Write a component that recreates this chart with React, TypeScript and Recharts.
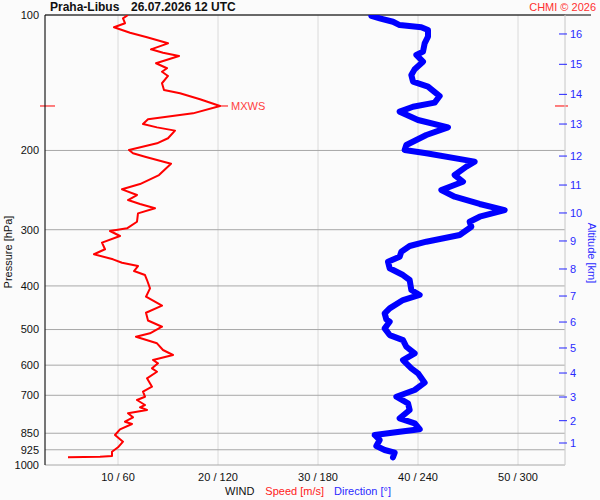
import React from "react";
import {
  ScatterChart,
  Scatter,
  XAxis,
  YAxis,
  CartesianGrid,
  ReferenceLine,
} from "recharts";

// wind speed profile [m/s] against pressure [hPa]
const speedP = [
  100, 101.7, 104.3, 106.5, 109.5, 112.1, 115.6, 119.2, 121.3, 123.3, 128.0, 131.3, 133.7, 136.6,
  141.8, 146.8, 149.3, 153.9, 159.3, 165.4, 170.5, 174.7, 177.7, 180.7, 187.9, 192.8, 199.5, 202.9,
  206.5, 214, 226.8, 237.5, 244.0, 251.2, 257.7, 263.0, 268.9, 275.9, 288.0, 297.9, 302.0, 309.8,
  320.6, 331.6, 340.2, 349.1, 355.2, 361.3, 370.6, 378.3, 388.1, 405.0, 422.7, 442.6, 458.8, 477.5,
  492.9, 509.8, 518.7, 536.5, 555.2, 569.6, 584.4, 594.3, 609.8, 620.5, 641.8, 669.9, 687.3, 705.1,
  717.1, 735.6, 744.3, 754.7, 767.5, 783.4, 801.2, 810.7, 833.0, 857.7, 887.6, 913.4, 934.2, 955.0,
  958.4, 961.4,
];
const speedV = [
  11.0, 10.5, 10.7, 9.6, 11.2, 12.9, 15.0, 13.3, 14.5, 16.1, 13.8, 14.9, 14.4, 15.0,
  14.4, 14.6, 16.2, 18.2, 20.2, 17.5, 13.0, 12.5, 13.9, 15.7, 15.0, 13.9, 11.1, 11.5,
  12.7, 15.3, 14.1, 12.2, 10.4, 11.9, 11.0, 12.2, 13.7, 12.0, 11.9, 10.9, 9.2, 10.2,
  8.4, 8.7, 7.6, 9.5, 10.4, 12.0, 11.6, 12.7, 12.9, 13.2, 12.8, 14.4, 12.8, 13.0,
  14.4, 13.2, 11.8, 13.9, 14.5, 15.5, 13.5, 14.0, 13.4, 13.9, 12.9, 13.4, 12.5, 12.7,
  11.9, 12.7, 12.2, 12.9, 11.0, 11.5, 10.7, 11.4, 10.2, 9.7, 10.5, 10.0, 9.4, 9.4,
  8.2, 5.0,
];

// wind direction profile [deg] against pressure [hPa]
const dirP = [
  100, 100.5, 101.7, 103.5, 105.3, 106.5, 108.0, 111.7, 115.6, 120.6, 122.7, 127.0, 132.0, 135.9,
  140.6, 144.3, 151.4, 156.6, 159.9, 164.0, 171.1, 177.7, 184.8, 194.5, 199.5, 202.9, 211.8, 217.3,
  226.8, 234.7, 244.9, 253.4, 263.0, 271.3, 280.7, 288.0, 295.4, 308.2, 319.0, 326.1, 335.7, 344.4,
  353.4, 365.5, 378.3, 388.1, 408.5, 419.0, 429.9, 448.6, 460.2, 474.6, 480.5, 497.0, 514.4, 527.7,
  546.1, 564.9, 584.4, 609.8, 625.6, 656.3, 681.3, 705.1, 729.3, 754.7, 787.4, 807.8, 833.0, 843.3,
  857.7, 879.9, 907.4, 926.1, 939.0, 961.4,
];
const dirV = [
  215, 212, 217, 225, 229, 242, 246, 246, 244, 243, 239, 243, 238, 236,
  237, 246, 253, 250, 237, 229, 240, 258, 245, 233, 232, 245, 274, 269,
  262, 267, 254, 262, 277, 292, 277, 271, 272, 265, 245, 235, 230, 229,
  222, 223, 231, 235, 236, 241, 231, 223, 220, 221, 223, 220, 223, 231,
  233, 238, 231, 236, 240, 244, 238, 227, 234, 235, 229, 238, 241, 229,
  214, 217, 215, 220, 226, 225,
];

const pressureTicks = [100, 200, 300, 400, 500, 600, 700, 850, 925, 1000];
const speedTicks = [10, 20, 30, 40, 50];
const altKm = [16, 15, 14, 13, 12, 11, 10, 9, 8, 7, 6, 5, 4, 3, 2, 1];
const altP = [
  110.2, 128.7, 150.1, 174.7, 205.8, 238.7, 275.4, 317.8, 366.8, 421.2, 481.2, 549.5, 624.6, 706.2,
  797.1, 893.6,
];

const speedData = speedP.map((p, i) => ({ p, s: speedV[i] }));
const dirData = dirP.map((p, i) => ({ p, d: dirV[i] }));

const maxIdx = speedV.indexOf(Math.max(...speedV));
const maxS = speedV[maxIdx];
const maxP = speedP[maxIdx];

const FONT = '"Liberation Sans", Arial, sans-serif';
const BLUE = "#0000ff";
const RED = "#ff0000";

const NoDot = () => <g />;

function AltTick(props: any) {
  const { x, y, index, payload } = props;
  const i = index ?? altP.indexOf(payload.value);
  return (
    <g>
      <line x1={x - 6} x2={x + 2} y1={y} y2={y} stroke="#2222ff" strokeWidth={1} />
      <text x={x + 5} y={y} dy="0.35em" fill="#2a2aff" fontSize={11} fontFamily={FONT}>
        {altKm[i]}
      </text>
    </g>
  );
}

export default function App() {
  return (
    <div
      style={{
        position: "absolute",
        left: 0,
        top: 0,
        width: 600,
        height: 500,
        background: "#fbfbfb",
        fontFamily: FONT,
      }}
    >
      <ScatterChart
        width={600}
        height={500}
        margin={{ top: 15, right: 0, bottom: 0, left: 0 }}
        style={{ fontFamily: FONT }}
      >
        <XAxis
          xAxisId="d"
          dataKey="d"
          type="number"
          domain={[16.2, 328.2]}
          allowDataOverflow
          orientation="top"
          height={0}
          hide
        />
        <XAxis
          xAxisId="s"
          dataKey="s"
          type="number"
          domain={[2.7, 54.7]}
          ticks={speedTicks}
          interval={0}
          allowDataOverflow
          height={35}
          axisLine={false}
          tickLine={false}
          tickSize={0}
          tickMargin={8}
          tick={{ fill: "#111", fontSize: 11 }}
          tickFormatter={(v: number) => `${v} / ${v * 6}`}
        />
        <YAxis
          yAxisId="p"
          dataKey="p"
          type="number"
          scale="log"
          domain={[100, 1000]}
          ticks={pressureTicks}
          interval={0}
          reversed
          allowDataOverflow
          width={45}
          axisLine={{ stroke: "#000" }}
          tickLine={false}
          tickSize={0}
          tickMargin={6}
          tick={{ fill: "#111", fontSize: 11 }}
        />
        <YAxis
          yAxisId="alt"
          orientation="right"
          type="number"
          scale="log"
          domain={[100, 1000]}
          ticks={altP}
          interval={0}
          reversed
          allowDataOverflow
          width={35}
          axisLine={{ stroke: "#d6d6d6" }}
          tickLine={false}
          tickSize={0}
          tickMargin={0}
          tick={<AltTick />}
        />
        <CartesianGrid xAxisId="s" yAxisId="p" horizontal={false} stroke="#dadada" />
        <CartesianGrid xAxisId="s" yAxisId="p" vertical={false} stroke="#a8a8a8" />
        <ReferenceLine
          xAxisId="s"
          yAxisId="p"
          segment={[
            { x: 2.7, y: 100 },
            { x: 57.3, y: 100 },
          ]}
          stroke="#000"
          ifOverflow="visible"
        />
        <Scatter
          xAxisId="s"
          yAxisId="p"
          data={speedData}
          fill={RED}
          line={{ stroke: RED, strokeWidth: 2, strokeLinejoin: "round" }}
          lineType="joint"
          shape={NoDot}
          legendType="none"
          isAnimationActive={false}
        />
        <Scatter
          xAxisId="d"
          yAxisId="p"
          data={dirData}
          fill={BLUE}
          line={{ stroke: BLUE, strokeWidth: 6, strokeLinejoin: "round", strokeLinecap: "round" }}
          lineType="joint"
          shape={NoDot}
          legendType="none"
          isAnimationActive={false}
        />
        <ReferenceLine
          xAxisId="s"
          yAxisId="p"
          segment={[
            { x: 2.2, y: maxP },
            { x: 3.7, y: maxP },
          ]}
          stroke={RED}
          ifOverflow="visible"
        />
        <ReferenceLine
          xAxisId="s"
          yAxisId="p"
          segment={[
            { x: 53.7, y: maxP },
            { x: 55.0, y: maxP },
          ]}
          stroke={RED}
          ifOverflow="visible"
        />
        <ReferenceLine
          xAxisId="s"
          yAxisId="p"
          segment={[
            { x: maxS, y: maxP },
            { x: maxS + 0.8, y: maxP },
          ]}
          stroke={RED}
          ifOverflow="visible"
          label={{ value: "MXWS", position: "right", fill: "#ff4040", fontSize: 11, offset: 3 }}
        />
      </ScatterChart>

      <div style={{ position: "absolute", left: 50, top: 0, fontSize: 12, lineHeight: "14px", fontWeight: "bold", color: "#111", whiteSpace: "nowrap" }}>
        Praha-Libus
      </div>
      <div style={{ position: "absolute", left: 131, top: 0, fontSize: 12, lineHeight: "14px", fontWeight: "bold", color: "#111", whiteSpace: "nowrap" }}>
        26.07.2026 12 UTC
      </div>
      <div style={{ position: "absolute", right: 4, top: 0, fontSize: 11, lineHeight: "14px", color: "#ff3030", whiteSpace: "nowrap" }}>
        CHMI © 2026
      </div>
      <div
        style={{
          position: "absolute",
          left: 8,
          top: 252,
          fontSize: 11,
          lineHeight: "12px",
          color: "#111",
          whiteSpace: "nowrap",
          transform: "translate(-50%, -50%) rotate(-90deg)",
        }}
      >
        Pressure [hPa]
      </div>
      <div
        style={{
          position: "absolute",
          left: 592,
          top: 253,
          fontSize: 11,
          lineHeight: "12px",
          color: "#2a2aff",
          whiteSpace: "nowrap",
          transform: "translate(-50%, -50%) rotate(90deg)",
        }}
      >
        Altitude [km]
      </div>
      <div style={{ position: "absolute", left: 225, top: 484, fontSize: 11, lineHeight: "14px", whiteSpace: "nowrap" }}>
        <span style={{ color: "#111" }}>WIND</span>
        <span style={{ color: "#ff2020", marginLeft: 11 }}>Speed [m/s]</span>
        <span style={{ color: "#2a2aff", marginLeft: 10 }}>Direction [°]</span>
      </div>
    </div>
  );
}
